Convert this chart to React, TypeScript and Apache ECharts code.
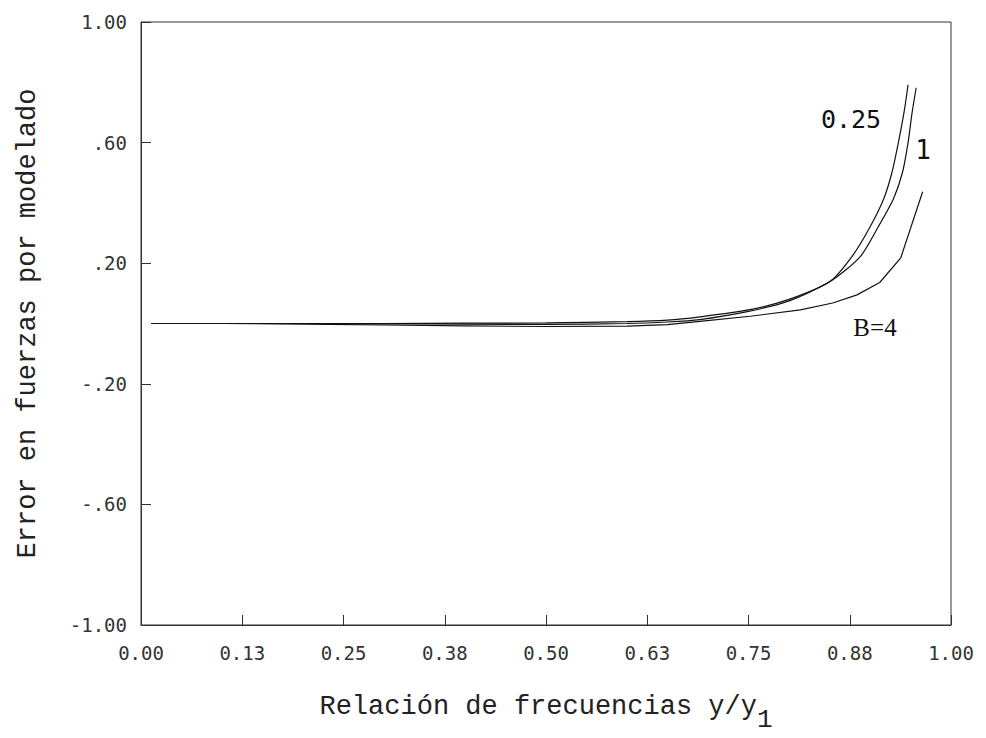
import React, { useEffect, useRef } from "react";
import * as echarts from "echarts";

// Tick labels
const xTickLabels = ["0.00", "0.13", "0.25", "0.38", "0.50", "0.63", "0.75", "0.88", "1.00"];
const yTickLabels = ["-1.00", "-.60", "-.20", ".20", ".60", "1.00"];

// Series: B = 0.25
const xB025 = [0.0125, 0.1, 0.2, 0.3, 0.4, 0.5, 0.6, 0.65, 0.69, 0.75, 0.8, 0.851, 0.879, 0.9, 0.917, 0.927, 0.935, 0.942, 0.947];
const yB025 = [0, 0, 0, 0, 0.001, 0.002, 0.006, 0.011, 0.022, 0.045, 0.08, 0.14, 0.227, 0.32, 0.414, 0.5, 0.6, 0.7, 0.792];

// Series: B = 1
const xB1 = [0.0125, 0.1, 0.2, 0.3, 0.4, 0.5, 0.6, 0.65, 0.69, 0.75, 0.8, 0.851, 0.888, 0.91, 0.929, 0.94, 0.947, 0.952, 0.957];
const yB1 = [0, 0, 0, -0.001, -0.002, -0.003, 0, 0.005, 0.013, 0.04, 0.075, 0.14, 0.222, 0.32, 0.414, 0.5, 0.6, 0.7, 0.782];

// Series: B = 4
const xB4 = [0.0125, 0.1, 0.2, 0.3, 0.4, 0.5, 0.6, 0.65, 0.69, 0.752, 0.814, 0.854, 0.884, 0.912, 0.938, 0.965];
const yB4 = [0, 0, -0.002, -0.005, -0.008, -0.01, -0.009, -0.004, 0.007, 0.024, 0.045, 0.068, 0.095, 0.136, 0.218, 0.437];

const pairs = (xs: number[], ys: number[]) => xs.map((x, i) => [x, ys[i]]);

export default function App() {
  const ref = useRef<HTMLDivElement>(null);
  useEffect(() => {
    document.body.style.margin = "0";
    const chart = echarts.init(ref.current!, null, { renderer: "svg" });
    const lineColor = "#111";
    const axisColor = "#333";
    const labelStyle = {
      fontFamily: "DejaVu Sans Mono",
      fontSize: 19,
      color: "#333",
    };
    const titleFont = "Liberation Mono";
    chart.setOption({
      animation: false,
      backgroundColor: "#ffffff",
      grid: {
        left: 141,
        right: 35,
        top: 22,
        bottom: 109,
        show: true,
        borderColor: axisColor,
        borderWidth: 1,
        backgroundColor: "transparent",
      },
      xAxis: {
        type: "value",
        min: 0,
        max: 1,
        interval: 0.125,
        axisLine: { show: true, onZero: false, lineStyle: { color: axisColor, width: 1 } },
        axisTick: { show: true, inside: true, length: 10, lineStyle: { color: axisColor, width: 1 } },
        splitLine: { show: false },
        axisLabel: {
          ...labelStyle,
          margin: 18,
          showMinLabel: true,
          showMaxLabel: true,
          formatter: (v: number) => xTickLabels[Math.round(v / 0.125)] ?? "",
        },
        name: "{a|Relación de frecuencias y/y}{b|1}",
        nameLocation: "middle",
        nameGap: 68,
        nameTextStyle: {
          fontFamily: titleFont,
          fontSize: 27,
          color: "#222",
          rich: {
            a: { fontFamily: titleFont, fontSize: 27, color: "#222", verticalAlign: "top" },
            b: { fontFamily: titleFont, fontSize: 26, color: "#222", verticalAlign: "top", padding: [14, 0, 0, 0] },
          },
        },
      },
      yAxis: {
        type: "value",
        min: -1,
        max: 1,
        interval: 0.4,
        axisLine: { show: true, onZero: false, lineStyle: { color: axisColor, width: 1 } },
        axisTick: { show: true, inside: true, length: 10, lineStyle: { color: axisColor, width: 1 } },
        splitLine: { show: false },
        axisLabel: {
          ...labelStyle,
          margin: 14,
          showMinLabel: true,
          showMaxLabel: true,
          formatter: (v: number) => yTickLabels[Math.round((v + 1) / 0.4)] ?? "",
        },
        name: "Error en fuerzas por modelado",
        nameLocation: "middle",
        nameRotate: 90,
        nameGap: 100,
        nameTextStyle: { fontFamily: titleFont, fontSize: 27, color: "#222" },
      },
      series: [
        {
          name: "0.25",
          type: "line",
          data: pairs(xB025, yB025),
          showSymbol: false,
          smooth: 0.25,
          lineStyle: { color: lineColor, width: 1.2 },
        },
        {
          name: "1",
          type: "line",
          data: pairs(xB1, yB1),
          showSymbol: false,
          smooth: 0.25,
          lineStyle: { color: lineColor, width: 1.2 },
        },
        {
          name: "B=4",
          type: "line",
          data: pairs(xB4, yB4),
          showSymbol: false,
          smooth: false,
          lineStyle: { color: lineColor, width: 1.2 },
        },
      ],
      graphic: [
        {
          type: "text",
          x: 851,
          y: 119,
          style: { text: "0.25", fontFamily: "DejaVu Sans Mono", fontSize: 25, fill: "#111", align: "center", verticalAlign: "middle" },
        },
        {
          type: "text",
          x: 923,
          y: 150,
          style: { text: "1", fontFamily: "DejaVu Sans Mono", fontSize: 26, fill: "#111", align: "center", verticalAlign: "middle" },
        },
        {
          type: "text",
          x: 875,
          y: 327,
          style: { text: "B=4", fontFamily: "Liberation Serif", fontSize: 25, fill: "#111", align: "center", verticalAlign: "middle" },
        },
      ],
    });
    return () => chart.dispose();
  }, []);
  return <div ref={ref} style={{ position: "fixed", left: 0, top: 0, width: 986, height: 738 }} />;
}
